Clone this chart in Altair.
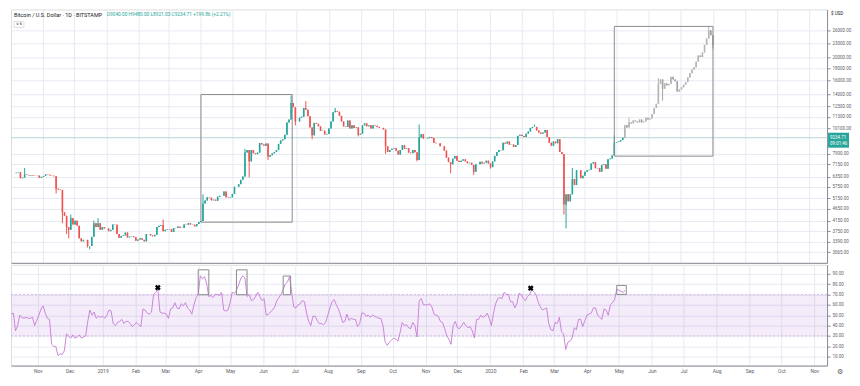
import altair as alt
import pandas as pd

# ---------------- data ----------------
start_date = "2018-10-07"          # first 2-day candle
first_open = 6560
close = [
    6590, 6620, 6250, 6290, 6480, 6450, 6420, 6440, 6410, 6400,
    6410, 6270, 6330, 6390, 6480, 6460, 6420, 6400, 6370, 5650,
    5600, 5580, 4500, 4350, 3900, 3800, 4250, 4000, 4150, 3950,
    3500, 3400, 3450, 3450, 3250, 3250, 3550, 4050, 3900, 4050,
    3800, 3900, 3850, 3850, 3750, 3800, 4000, 3990, 3650, 3520,
    3580, 3600, 3700, 3530, 3560, 3570, 3540, 3420, 3460, 3500,
    3450, 3400, 3650, 3650, 3600, 3570, 3620, 3900, 3950, 3980,
    3750, 3800, 3820, 3830, 3720, 3860, 3870, 3920, 3880, 3870,
    4000, 3990, 4050, 4000, 3990, 3930, 4020, 4100, 4140, 4900,
    5040, 5200, 5180, 5050, 5080, 5030, 5230, 5280, 5280, 5500,
    5200, 5180, 5200, 5370, 5750, 5750, 5900, 6150, 6350, 8000,
    8200, 7350, 8200, 7950, 7880, 8000, 8770, 8650, 8550, 8730,
    7680, 7800, 7940, 8050, 8200, 8700, 8990, 9100, 9500, 10700,
    11000, 12900, 12400, 10800, 10800, 11200, 11300, 12300, 12100, 11350,
    10200, 9450, 10650, 10550, 10300, 9850, 9880, 9530, 9580, 10100,
    10800, 11800, 11950, 11850, 11400, 10800, 10300, 10250, 10900, 10100,
    10400, 10150, 10200, 9500, 9600, 10400, 10600, 10300, 10400, 10100,
    10400, 10350, 10250, 10150, 10150, 10000, 8500, 8050, 8200, 8300,
    8350, 8150, 7850, 8200, 8600, 8300, 8350, 8000, 7950, 8200,
    8020, 7450, 9250, 9550, 9150, 9150, 9200, 9300, 9200, 8800,
    8750, 8750, 8500, 8500, 8150, 7620, 7300, 7150, 7550, 7750,
    7400, 7300, 7400, 7500, 7350, 7220, 7250, 7100, 6650, 7150,
    7150, 7320, 7200, 7250, 7400, 7200, 6950, 7350, 7750, 8050,
    8200, 8180, 8800, 8720, 8900, 8630, 8650, 8450, 8600, 9400,
    9500, 9380, 9300, 9600, 9800, 10150, 10250, 10250, 9900, 9700,
    9600, 9700, 9950, 9300, 8800, 8550, 8900, 8750, 9100, 8050,
    7900, 4850, 5350, 5000, 5350, 6200, 5850, 6750, 6750, 6250,
    6400, 6650, 6750, 6780, 7200, 7300, 6880, 6900, 6650, 7100,
    7150, 6850, 7500, 7550, 7780, 8800, 8850, 8900, 9030, 9234.71,
]
rsi = [
    51, 52, 35, 40, 50, 48, 47, 48, 47, 47,
    48, 40, 45, 50, 56, 59, 52, 47, 46, 22,
    20, 20, 11, 13, 12, 16, 32, 30, 28, 31,
    28, 29, 31, 28, 29, 30, 44, 55, 50, 53,
    47, 49, 48, 49, 47, 50, 55, 54, 42, 40,
    43, 44, 46, 42, 44, 44, 42, 39, 41, 43,
    41, 39, 56, 55, 52, 51, 53, 70, 72, 75,
    53, 52, 52, 51, 47, 56, 57, 62, 57, 56,
    61, 59, 62, 57, 55, 51, 60, 67, 70, 88,
    85, 87, 80, 68, 69, 67, 70, 70, 69, 72,
    55, 54, 55, 62, 72, 71, 74, 79, 85, 88,
    86, 68, 70, 64, 65, 68, 72, 68, 64, 66,
    50, 51, 53, 55, 58, 64, 67, 70, 75, 80,
    82, 87, 72, 58, 57, 60, 61, 64, 63, 52,
    44, 40, 49, 49, 45, 42, 42, 41, 43, 50,
    57, 63, 65, 60, 56, 50, 43, 44, 51, 45,
    47, 46, 46, 39, 42, 52, 52, 49, 50, 48,
    50, 49, 48, 47, 47, 40, 24, 21, 24, 26,
    28, 27, 25, 33, 43, 40, 41, 38, 37, 43,
    40, 29, 64, 66, 60, 60, 60, 61, 58, 51,
    50, 49, 44, 43, 37, 30, 27, 22, 40, 44,
    38, 37, 40, 43, 40, 38, 39, 35, 28, 46,
    46, 50, 48, 49, 52, 47, 40, 52, 61, 66,
    67, 66, 72, 70, 70, 63, 63, 57, 61, 71,
    70, 66, 64, 68, 70, 75, 72, 70, 63, 58,
    55, 56, 57, 42, 36, 35, 43, 42, 48, 34,
    32, 17, 24, 25, 28, 38, 36, 46, 46, 39,
    45, 50, 51, 52, 57, 57, 50, 48, 46, 56,
    55, 50, 60, 62, 65, 75, 74, 73, 72, 74,
]
# notable wicks: date -> (low, high)
wicks = {
    "2018-10-15": (None, 6900), "2018-11-14": (5400, None), "2018-11-20": (4050, None),
    "2018-11-24": (3650, None), "2018-11-26": (3500, None), "2018-11-28": (None, 4400),
    "2018-12-14": (3200, None), "2018-12-16": (3150, None), "2018-12-20": (None, 4150),
    "2018-12-24": (None, 4250), "2019-02-24": (None, 4200), "2019-04-03": (None, 5350),
    "2019-05-13": (None, 8300), "2019-05-17": (6300, 8000), "2019-06-04": (7450, None),
    "2019-06-26": (None, 13850), "2019-06-30": (10400, None), "2019-07-10": (None, 13150),
    "2019-07-16": (9100, None), "2019-08-07": (None, 12300), "2019-08-29": (9350, None),
    "2019-09-24": (7900, None), "2019-10-24": (7350, None), "2019-10-26": (None, 10500),
    "2019-11-25": (6550, None), "2019-12-17": (6450, None), "2020-01-02": (6850, None),
    "2020-02-13": (None, 10500), "2020-03-12": (4400, None), "2020-03-14": (3850, None),
    "2020-03-20": (None, 6900), "2020-04-29": (None, 9450),
}
# projected (gray) bars pattern
proj_start = "2020-05-09"
proj_close = [
    10400, 10200, 10700, 10600, 10900, 10800, 10700, 11000, 10700, 10800,
    11200, 11000, 11100, 11600, 12300, 12800, 15500, 16200, 14800, 15600,
    15300, 15500, 16600, 16200, 15900, 14400, 14700, 15000, 15400, 15800,
    16500, 17200, 17800, 18200, 19200, 20400, 20100, 21000, 22600, 24000,
    26000, 24800, 22500,
]
proj_wicks = {
    "2020-05-13": (None, 11200), "2020-06-10": (None, 16400), "2020-06-14": (13200, None),
    "2020-07-28": (None, 27000), "2020-08-01": (21800, None),
}
last_price = 9234.71
countdown = "09:01:46"
price_ticks = [26000, 23000, 20000, 18000, 16000, 14000, 12500, 11300, 10100,
               7900, 7150, 6350, 5750, 5150, 4650, 4150, 3750, 3390, 3065]
rsi_ticks = [10, 20, 30, 40, 50, 60, 70, 80, 90]
header = "Bitcoin / U.S. Dollar · 1D · BITSTAMP"
ohlc_text = "O9040.00 H9480.00 L8921.03 C9234.71 +199.86 (+2.21%)"
big_boxes = pd.DataFrame({
    "x1": ["2019-04-01T00:00:00", "2020-04-29T00:00:00"],
    "x2": ["2019-06-27T00:00:00", "2020-08-01T00:00:00"],
    "y1": [4090, 7730], "y2": [14000, 27000]})
rsi_boxes = pd.DataFrame({
    "x1": ["2019-04-01T00:00:00", "2019-05-07T00:00:00", "2019-06-20T00:00:00", "2020-04-29T00:00:00"],
    "x2": ["2019-04-11T00:00:00", "2019-05-17T00:00:00", "2019-06-27T00:00:00", "2020-05-08T00:00:00"],
    "y1": [69.7, 69.7, 69.7, 70.0], "y2": [93.7, 93.7, 87.7, 78.7]})
x_marks = pd.DataFrame({"date": ["2019-02-22T00:00:00", "2020-02-08T00:00:00"], "v": [76.6, 76.0]})
months = [(2018, 11), (2018, 12)] + [(2019, m) for m in range(1, 13)] + [(2020, m) for m in range(1, 12)]


# ---------------- build tables ----------------
def build(start, closes, o0, wk, up, dn):
    rows = []
    prev = o0
    for d, c in zip(pd.date_range(start, periods=len(closes), freq="2D"), closes):
        lo, hi = wk.get(d.strftime("%Y-%m-%d"), (None, None))
        rows.append(dict(
            date=d.strftime("%Y-%m-%dT00:00:00"), open=prev, close=c,
            high=max(prev, c) if hi is None else max(hi, prev, c),
            low=min(prev, c) if lo is None else min(lo, prev, c),
            kind=up if c >= prev else dn))
        prev = c
    return rows

candles = pd.DataFrame(build(start_date, close, first_open, wicks, "up", "down")
                       + build(proj_start, proj_close, close[-1], proj_wicks, "gup", "gdown"))
rsi_df = pd.DataFrame({
    "date": [d.strftime("%Y-%m-%dT00:00:00") for d in pd.date_range(start_date, periods=len(rsi), freq="2D")],
    "rsi": rsi})

W, H1, H2 = 818, 254, 101
GRID = "#e6eaf2"
AX = "#8a8d96"
LBL = "#5d606b"
FONT = "Roboto"

month_vals = [alt.DateTime(year=y, month=m, date=1) for y, m in months]
xscale = alt.Scale(domain=[alt.DateTime(year=2018, month=10, date=6, hours=18),
                           alt.DateTime(year=2020, month=11, date=13)])
ax_top = alt.Axis(values=month_vals, labels=False, ticks=False, domain=True,
                  domainColor=AX, grid=True, gridColor=GRID)
ax_bot = alt.Axis(values=month_vals, ticks=False, domain=True, domainColor=AX,
                  grid=True, gridColor=GRID, labelFontSize=5, labelColor=LBL,
                  labelFont=FONT, labelPadding=3,
                  labelExpr="month(datum.value) == 0 ? timeFormat(datum.value, '%Y') : timeFormat(datum.value, '%b')")


def XT(field, ax):
    return alt.X(field, scale=xscale, axis=ax, title=None)


pscale = alt.Scale(type="log", domain=[2764, 31800], nice=False)
paxis = alt.Axis(orient="right", values=price_ticks, format=".2f", labelFontSize=4.5,
                 labelColor=LBL, labelFont=FONT, tickColor=AX, tickSize=3, labelPadding=2,
                 domainColor=AX, grid=True, gridColor=GRID)


def YP(field):
    return alt.Y(field, scale=pscale, axis=paxis, title=None)


color = alt.Color("kind:N", legend=None,
                  scale=alt.Scale(domain=["up", "down", "gup", "gdown"],
                                  range=["#26a69a", "#ef5350", "#b4b4b4", "#a2a2a2"]))

wick = alt.Chart(candles).mark_rule(strokeWidth=1).encode(
    x=XT("date:T", ax_top), y=YP("low:Q"), y2="high:Q", color=color)
body = alt.Chart(candles).mark_bar(width=1.6).encode(
    x=XT("date:T", ax_top), y=YP("open:Q"), y2="close:Q", color=color)
pline = alt.Chart(pd.DataFrame({"p": [last_price]})).mark_rule(color="#b9d6d8", strokeWidth=1).encode(
    y=YP("p:Q"))
boxes = alt.Chart(big_boxes).mark_rect(fillOpacity=0, stroke="#8c8c8c", strokeWidth=1).encode(
    x=XT("x1:T", ax_top), x2="x2:T", y=YP("y1:Q"), y2="y2:Q")
tag_df = pd.DataFrame({"p": [last_price], "t1": [f"{last_price:.2f}"], "t2": [countdown]})
tag = alt.Chart(tag_df).mark_rect(color="#26a69a", yOffset=-5, y2Offset=10).encode(
    x=alt.value(W + 1), x2=alt.value(W + 22), y=YP("p:Q"), y2="p:Q")
tag_t1 = alt.Chart(tag_df).mark_text(align="left", baseline="middle", fontSize=4.5, font=FONT,
                                     color="white", dy=0).encode(
    x=alt.value(W + 3), y=YP("p:Q"), text="t1:N")
tag_t2 = alt.Chart(tag_df).mark_text(align="left", baseline="middle", fontSize=4.5, font=FONT,
                                     color="white", dy=6.5).encode(
    x=alt.value(W + 3), y=YP("p:Q"), text="t2:N")
hdr_df = pd.DataFrame({"a": [header], "b": [ohlc_text], "c": ["$ USD"], "d": ["∨ 6"], "g": ["⚙"]})
hdr1 = alt.Chart(hdr_df).mark_text(align="left", baseline="middle", fontSize=5.5, font=FONT,
                                   color="#131722").encode(x=alt.value(3), y=alt.value(6), text="a:N")
hdr2 = alt.Chart(hdr_df).mark_text(align="left", baseline="middle", fontSize=4.8, font=FONT,
                                   color="#26a69a").encode(x=alt.value(96), y=alt.value(6), text="b:N")
usd = alt.Chart(hdr_df).mark_text(align="left", baseline="middle", fontSize=4.5, font=FONT,
                                  color="#131722").encode(x=alt.value(W + 4), y=alt.value(5), text="c:N")
tog_box = alt.Chart(hdr_df).mark_rect(fillOpacity=0, stroke="#d6d8de", strokeWidth=0.8).encode(
    x=alt.value(3), x2=alt.value(13), y=alt.value(12), y2=alt.value(18))
tog = alt.Chart(hdr_df).mark_text(align="center", baseline="middle", fontSize=4, font=FONT,
                                  color="#131722").encode(x=alt.value(8), y=alt.value(15), text="d:N")

price = alt.layer(pline, wick, body, boxes, tag, tag_t1, tag_t2, hdr1, hdr2, usd, tog_box, tog
                  ).properties(width=W, height=H1)

rscale = alt.Scale(domain=[1.5, 98.5], nice=False, zero=False)
raxis = alt.Axis(orient="right", values=rsi_ticks, format=".2f", labelFontSize=4.5,
                 labelColor=LBL, labelFont=FONT, tickColor=AX, tickSize=3, labelPadding=2,
                 domainColor=AX, grid=True, gridColor=GRID)


def YR(field):
    return alt.Y(field, scale=rscale, axis=raxis, title=None)


band_df = pd.DataFrame({"hi": [70], "lo": [30]})
band = alt.Chart(band_df).mark_rect(color="#a64fd6", opacity=0.11).encode(
    x=alt.value(0), x2=alt.value(W), y=YR("hi:Q"), y2="lo:Q")
lev_df = pd.DataFrame({"v": [70, 30]})
levels = alt.Chart(lev_df).mark_rule(color="#c9b3d6", strokeDash=[2, 2], strokeWidth=0.8).encode(
    y=YR("v:Q"))
rline = alt.Chart(rsi_df).mark_line(color="#c57ad6", strokeWidth=0.9).encode(
    x=XT("date:T", ax_bot), y=YR("rsi:Q"))
rboxes = alt.Chart(rsi_boxes).mark_rect(fillOpacity=0, stroke="#8c8c8c", strokeWidth=1).encode(
    x=XT("x1:T", ax_bot), x2="x2:T", y=YR("y1:Q"), y2="y2:Q")
marks = alt.Chart(x_marks).mark_point(shape="cross", angle=45, filled=True, color="black",
                                      size=34, opacity=1).encode(
    x=XT("date:T", ax_bot), y=YR("v:Q"))
gear = alt.Chart(hdr_df).mark_text(align="center", baseline="middle", fontSize=7,
                                   font="DejaVu Sans", color="#5d606b").encode(
    x=alt.value(W + 13), y=alt.value(H2 + 6), text="g:N")

rsi_panel = alt.layer(band, levels, rline, rboxes, marks, gear).properties(width=W, height=H2)

chart = alt.vconcat(price, rsi_panel, spacing=0).properties(
    padding={"left": 0, "top": 0, "right": 0, "bottom": 0}
).configure_view(stroke=None).configure(background="white")

chart.save("out.html", embed_options={"renderer": "svg", "actions": False})
